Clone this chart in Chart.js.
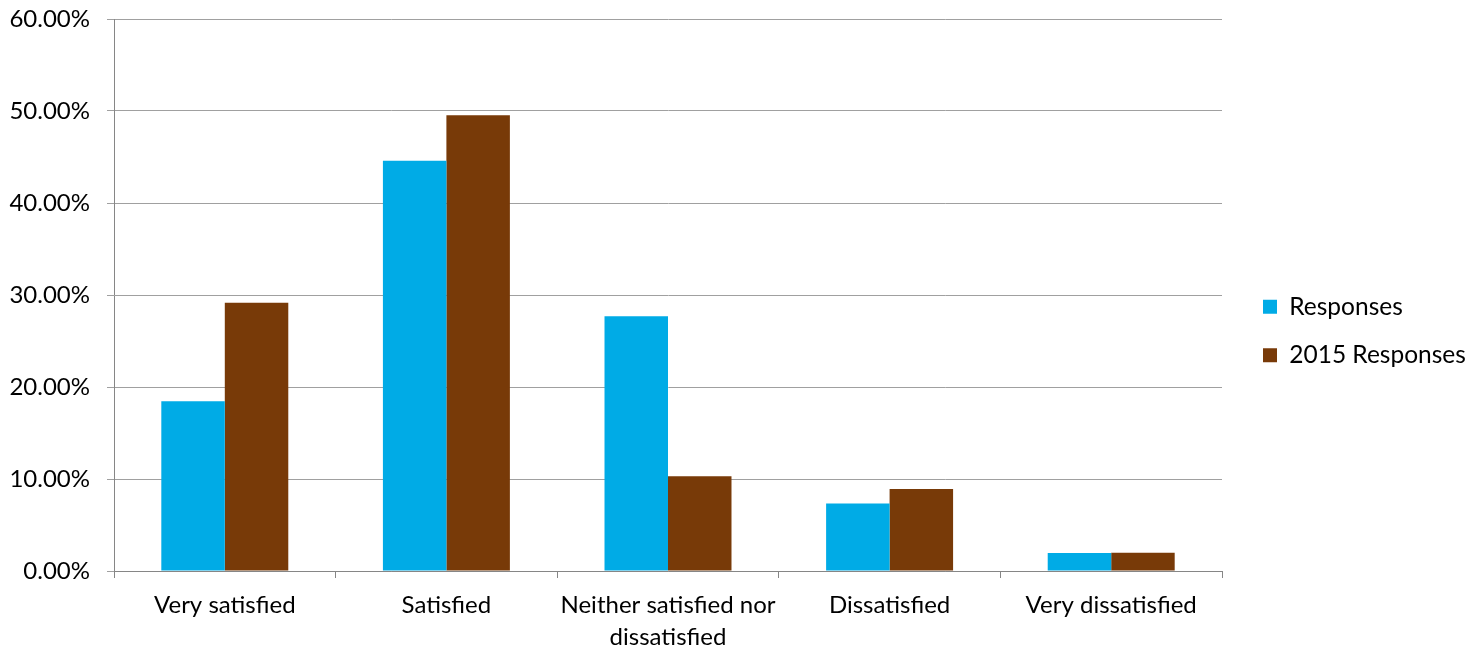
<!DOCTYPE html>
<html>
<head>
<meta charset="utf-8">
<script src="https://cdn.jsdelivr.net/npm/chart.js@4/dist/chart.umd.min.js"></script>
<style>
html,body{margin:0;padding:0;background:#fff;}
#wrap{width:1479px;height:648px;position:relative;}
</style>
</head>
<body>
<div id="wrap"><canvas id="c" width="1479" height="648"></canvas></div>
<script>
const categories = ['Very satisfied', 'Satisfied', ['Neither satisfied nor', 'dissatisfied'], 'Dissatisfied', 'Very dissatisfied'];
const seriesNames = ['Responses', '2015 Responses'];
const responses = [18.45, 44.6, 27.68, 7.33, 1.96];
const responses2015 = [29.17, 49.53, 10.29, 8.91, 1.98];
const yTicks = [0, 10, 20, 30, 40, 50, 60];

const FONT = 'Lato, "Open Sans", sans-serif';
Chart.defaults.font.family = FONT;
Chart.defaults.color = '#000';

const legendFix = {
  id: 'legendFix',
  afterInit(chart) {
    const lg = chart.legend;
    if (lg && !lg._patched) {
      const f = lg.fit.bind(lg);
      lg.fit = function () { f(); this.width = 257; };
      lg._patched = true;
    }
  },
  afterLayout(chart) {
    const lg = chart.legend;
    lg.left += 17;
    lg.top += 7; lg.bottom += 7;
  }
};

new Chart(document.getElementById('c'), {
  type: 'bar',
  data: {
    labels: categories,
    datasets: [
      { label: seriesNames[0], data: responses, backgroundColor: '#00ABE6', borderWidth: 0 },
      { label: seriesNames[1], data: responses2015, backgroundColor: '#783A08', borderWidth: 0 }
    ]
  },
  options: {
    responsive: false,
    animation: false,
    devicePixelRatio: 1,
    layout: { padding: { top: 0, right: 0, bottom: 0, left: 0 } },
    datasets: { bar: { categoryPercentage: 0.573, barPercentage: 1.0 } },
    plugins: {
      tooltip: { enabled: false },
      legend: {
        position: 'right',
        align: 'center',
        onClick: null,
        labels: {
          boxWidth: 14, boxHeight: 14, padding: 24,
          font: { size: 24.5, family: FONT }, color: '#000'
        }
      }
    },
    scales: {
      x: {
        offset: true,
        grid: { display: true, offset: true, drawOnChartArea: false, drawTicks: true, tickLength: 7, color: '#868686', lineWidth: 1 },
        border: { display: true, color: '#868686', width: 1 },
        ticks: { font: { size: 24, family: FONT, lineHeight: 1.3 }, color: '#000', padding: 12, maxRotation: 0, autoSkip: false },
        afterFit(s) { s.height = 77; }
      },
      y: {
        min: 0, max: 60,
        afterBuildTicks(s) { s.ticks = yTicks.map(v => ({ value: v })); },
        grid: { color: '#A0A0A0', lineWidth: 1, tickLength: 7, drawTicks: true },
        border: { display: true, color: '#868686', width: 1 },
        ticks: {
          font: { size: 24, family: FONT }, color: '#000', padding: 17,
          callback: v => v.toFixed(2) + '%'
        },
        afterFit(s) { s.width = 114; s.paddingTop = 19; s.paddingBottom = 0; }
      }
    }
  },
  plugins: [legendFix]
});
</script>
</body>
</html>
